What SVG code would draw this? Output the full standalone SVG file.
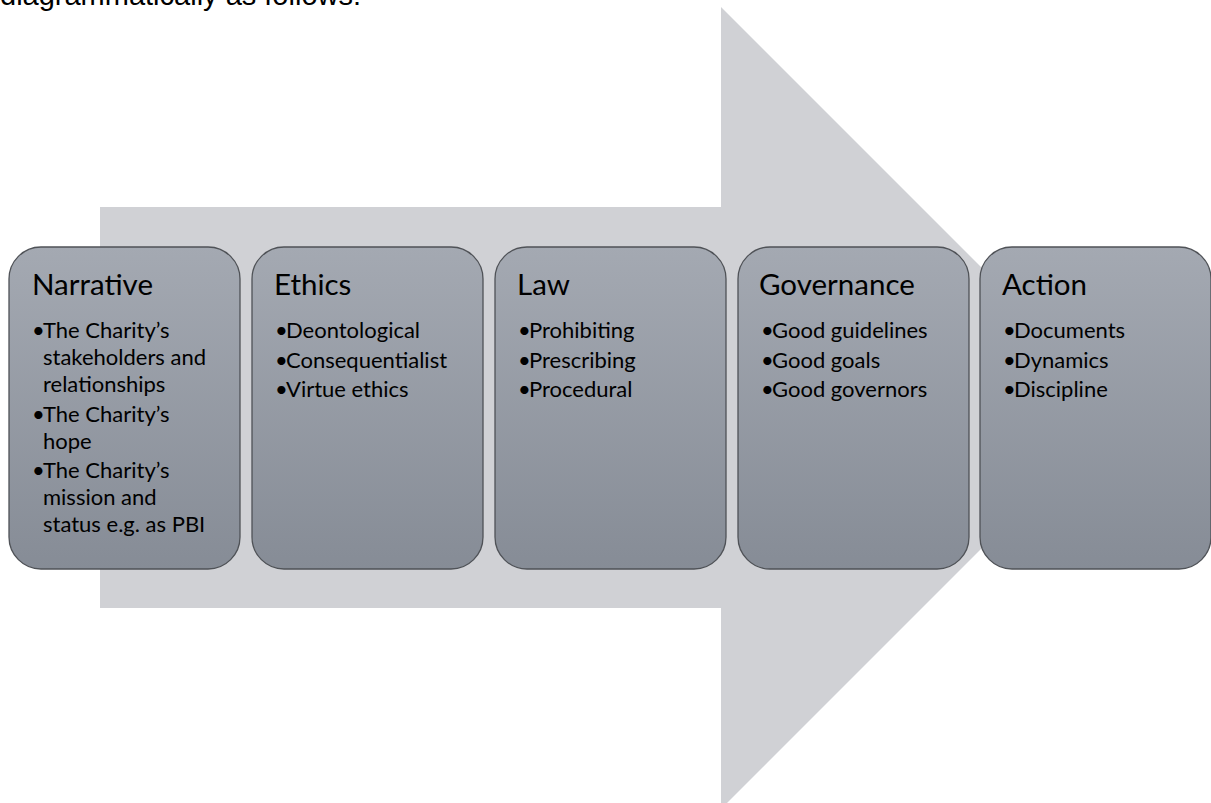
<svg xmlns="http://www.w3.org/2000/svg" width="1211" height="803" viewBox="0 0 1211 803">
  <style>
    .lead { font-family: "Liberation Sans", Arial, sans-serif; font-size: 29px; fill: #000; }
    .title { font-family: Lato, "Open Sans", sans-serif; font-size: 29.5px; fill: #000; }
    .item { font-family: Lato, "Open Sans", sans-serif; font-size: 22px; fill: #000; }
    .card { fill: url(#cardFill); stroke: #4f5257; stroke-width: 1.3; }
  </style>
  <defs>
    <linearGradient id="cardFill" x1="0" y1="0" x2="0" y2="1">
      <stop offset="0" stop-color="#a4a9b2"/>
      <stop offset="1" stop-color="#868c96"/>
    </linearGradient>
  </defs>

  <rect width="1211" height="803" fill="#ffffff"/>

  <!-- running sentence above the figure -->
  <text class="lead" x="0" y="4.5">diagrammatically as follows:</text>

  <!-- background block arrow -->
  <g id="flow-arrow">
    <polygon points="100,207 721,207 721,7 1122,408 721,809 721,608 100,608" fill="#d0d1d5"/>
  </g>

  <g id="narrative">
    <rect class="card" x="9" y="247" width="231" height="322" rx="32" ry="32"/>
    <text class="title" x="32" y="295">Narrative</text>
    <text class="item" x="32" y="338">•</text>
    <text class="item" x="43" y="338">The Charity’s</text>
    <text class="item" x="43" y="365">stakeholders and</text>
    <text class="item" x="43" y="392">relationships</text>
    <text class="item" x="32" y="421.5">•</text>
    <text class="item" x="43" y="421.5">The Charity’s</text>
    <text class="item" x="43" y="448.5">hope</text>
    <text class="item" x="32" y="478">•</text>
    <text class="item" x="43" y="478">The Charity’s</text>
    <text class="item" x="43" y="505">mission and</text>
    <text class="item" x="43" y="532">status e.g. as PBI</text>
  </g>

  <g id="ethics">
    <rect class="card" x="252" y="247" width="231" height="322" rx="32" ry="32"/>
    <text class="title" x="274" y="295">Ethics</text>
    <text class="item" x="275" y="338">•</text>
    <text class="item" x="286" y="338">Deontological</text>
    <text class="item" x="275" y="367.5">•</text>
    <text class="item" x="286" y="367.5">Consequentialist</text>
    <text class="item" x="275" y="397">•</text>
    <text class="item" x="286" y="397">Virtue ethics</text>
  </g>

  <g id="law">
    <rect class="card" x="495" y="247" width="231" height="322" rx="32" ry="32"/>
    <text class="title" x="517" y="295">Law</text>
    <text class="item" x="518" y="338">•</text>
    <text class="item" x="529" y="338">Prohibiting</text>
    <text class="item" x="518" y="367.5">•</text>
    <text class="item" x="529" y="367.5">Prescribing</text>
    <text class="item" x="518" y="397">•</text>
    <text class="item" x="529" y="397">Procedural</text>
  </g>

  <g id="governance">
    <rect class="card" x="738" y="247" width="231" height="322" rx="32" ry="32"/>
    <text class="title" x="759" y="295">Governance</text>
    <text class="item" x="761" y="338">•</text>
    <text class="item" x="772" y="338">Good guidelines</text>
    <text class="item" x="761" y="367.5">•</text>
    <text class="item" x="772" y="367.5">Good goals</text>
    <text class="item" x="761" y="397">•</text>
    <text class="item" x="772" y="397">Good governors</text>
  </g>

  <g id="action">
    <rect class="card" x="980" y="247" width="231" height="322" rx="32" ry="32"/>
    <text class="title" x="1002" y="295">Action</text>
    <text class="item" x="1003" y="338">•</text>
    <text class="item" x="1014" y="338">Documents</text>
    <text class="item" x="1003" y="367.5">•</text>
    <text class="item" x="1014" y="367.5">Dynamics</text>
    <text class="item" x="1003" y="397">•</text>
    <text class="item" x="1014" y="397">Discipline</text>
  </g>

  <!-- the stages sit side by side on the arrow; no separate connector lines -->
  <g id="connectors"/>
</svg>
